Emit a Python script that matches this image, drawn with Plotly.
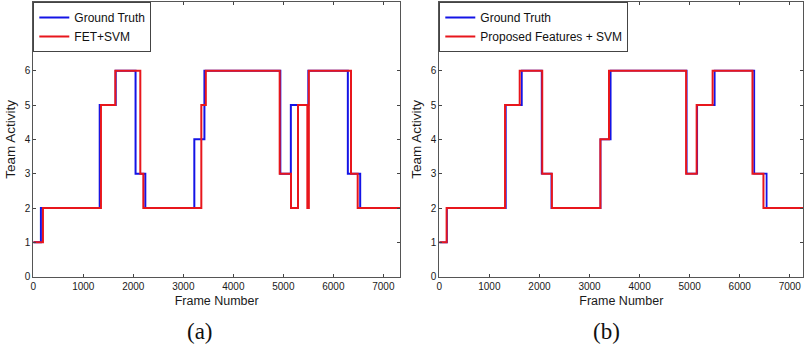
import plotly.graph_objects as go

# ---- data (step change points: frame where value starts, activity level) ----
gt_frames = [0, 152, 1328, 1648, 2045, 2240, 3220, 3422, 4940, 5150, 5500, 6290, 6537, 7333]
gt_activity = [1, 2, 5, 6, 3, 2, 4, 6, 3, 5, 6, 3, 2, 2]

fet_frames = [0, 193, 1353, 1640, 2140, 2200, 3360, 3450, 4927, 5153, 5293, 5480, 5490,
              5500, 5510, 6353, 6487, 7333]
fet_activity = [1, 2, 5, 6, 3, 2, 5, 6, 3, 2, 5, 2, 5, 2, 6, 3, 2, 2]

prop_frames = [0, 146, 1313, 1606, 2056, 2249, 3217, 3390, 4929, 5140, 5459, 6255, 6474, 7333]
prop_activity = [1, 2, 5, 6, 3, 2, 4, 6, 3, 5, 6, 3, 2, 2]

x_ticks = [0, 1000, 2000, 3000, 4000, 5000, 6000, 7000]
y_ticks = [0, 1, 2, 3, 4, 5, 6]
captions = ["(a)", "(b)"]

BLUE = "rgb(20,20,230)"
RED = "rgb(232,22,28)"
W, H = 806, 347

fig = go.Figure()
fig.add_trace(go.Scatter(x=gt_frames, y=gt_activity, mode="lines", line_shape="hv",
                         line=dict(color=BLUE, width=2), name="Ground Truth",
                         xaxis="x", yaxis="y", legend="legend"))
fig.add_trace(go.Scatter(x=fet_frames, y=fet_activity, mode="lines", line_shape="hv",
                         line=dict(color=RED, width=2), name="FET+SVM",
                         xaxis="x", yaxis="y", legend="legend"))
fig.add_trace(go.Scatter(x=gt_frames, y=gt_activity, mode="lines", line_shape="hv",
                         line=dict(color=BLUE, width=1.8), name="Ground Truth",
                         xaxis="x2", yaxis="y2", legend="legend2"))
fig.add_trace(go.Scatter(x=prop_frames, y=prop_activity, mode="lines", line_shape="hv",
                         line=dict(color=RED, width=2), name="Proposed Features + SVM",
                         xaxis="x2", yaxis="y2", legend="legend2"))

ydom = [(H - 276.7) / H, (H - 2) / H]
font_tick = dict(family="Liberation Sans, Arial, sans-serif", size=10, color="#1a1a1a")
font_title = dict(family="Liberation Sans, Arial, sans-serif", size=12.5, color="#1a1a1a")

def xax(dom, rng):
    return dict(domain=dom, range=rng, tickvals=x_ticks, ticks="inside", ticklen=3,
                tickcolor="#444", showline=True, linecolor="#555", linewidth=1, mirror="ticks",
                showgrid=False, zeroline=False, tickfont=font_tick, automargin=False,
                title=dict(text="Frame Number", font=font_title, standoff=5))

def yax(anchor):
    return dict(domain=ydom, range=[0, 8], tickvals=y_ticks, ticks="inside", ticklen=3,
                tickcolor="#444", showline=True, linecolor="#555", linewidth=1, mirror="ticks",
                showgrid=False, zeroline=False, tickfont=font_tick, anchor=anchor,
                automargin=False,
                title=dict(text="Team Activity",
                           font=dict(family="Liberation Sans, Arial, sans-serif", size=13.5,
                                     color="#1a1a1a"), standoff=6))

leg_common = dict(xanchor="left", yanchor="top", y=(H - 2) / H, bgcolor="white",
                  bordercolor="#444", borderwidth=1, tracegroupgap=0,
                  font=dict(family="Liberation Sans, Arial, sans-serif", size=12, color="#111"))

fig.update_layout(
    width=W, height=H, margin=dict(l=0, r=0, t=0, b=0, autoexpand=False),
    paper_bgcolor="white", plot_bgcolor="white", showlegend=True,
    xaxis=dict(xax([33.3 / W, 400 / W], [0, 7333]), anchor="y"),
    yaxis=yax("x"),
    xaxis2=dict(xax([439.3 / W, 803.3 / W], [0, 7270]), anchor="y2"),
    yaxis2=yax("x2"),
    legend=dict(leg_common, x=33.3 / W),
    legend2=dict(leg_common, x=439.3 / W),
    annotations=[
        dict(text=captions[0], x=199.5 / W, y=(H - 331.5) / H, xref="paper", yref="paper",
             showarrow=False, xanchor="center", yanchor="middle",
             font=dict(family="Liberation Serif, serif", size=23, color="#111")),
        dict(text=captions[1], x=606 / W, y=(H - 331.5) / H, xref="paper", yref="paper",
             showarrow=False, xanchor="center", yanchor="middle",
             font=dict(family="Liberation Serif, serif", size=23, color="#111")),
    ],
)

fig.write_html("out.html", config={"displayModeBar": False},
               post_script="document.body.style.margin='0';document.body.style.padding='0';"
                           "document.body.style.overflow='hidden';")
